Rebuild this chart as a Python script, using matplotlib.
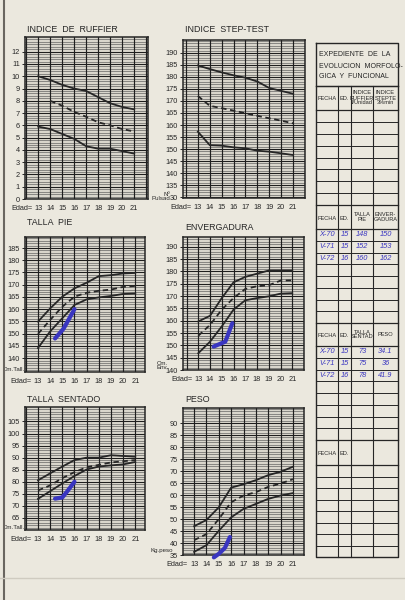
import matplotlib
matplotlib.use('Agg')
import matplotlib.pyplot as plt
from matplotlib.transforms import blended_transform_factory
import numpy as np

plt.rcParams['font.family'] = ['Liberation Sans Narrow', 'Liberation Sans', 'DejaVu Sans']

W, H = 405, 600
PAPER = '#ebe8de'
INK = '#262626'
AZUL = '#3a36c0'

# ---- datos ----
edad = [13, 14, 15, 16, 17, 18, 19, 20, 21]

ruffier_alto = [10.0, 9.7, 9.3, 9.0, 8.8, 8.3, 7.8, 7.5, 7.3]
ruffier_medio = [8.0, 7.6, 7.1, 6.7, 6.25, 6.0, 5.7, 5.5]   # empieza en 14
ruffier_bajo = [5.9, 5.7, 5.3, 4.9, 4.3, 4.1, 4.1, 3.9, 3.7]

step_alto = [184.8, 183.3, 181.9, 180.7, 179.7, 178.1, 175.4, 174.2, 173.0]
step_medio = [172.1, 168.0, 167.0, 166.0, 164.9, 163.8, 162.8, 161.8, 160.7]
step_bajo = [157.2, 151.6, 151.4, 150.7, 150.3, 149.3, 148.9, 148.2, 147.5]

pie_alto = [154.9, 160.3, 165.1, 168.5, 170.8, 173.5, 173.9, 174.6, 174.8]
pie_medio = [149.9, 155.6, 161.0, 165.1, 166.7, 167.5, 168.0, 169.1, 169.5]
pie_bajo = [144.1, 150.9, 156.3, 161.7, 164.0, 164.8, 165.4, 166.2, 166.4]
pie_edad_azul = [14.4, 15.1, 16.0]
pie_azul = [148, 152, 160]

env_alto = [159.7, 162.0, 169.2, 175.6, 177.8, 179.1, 180.4, 180.4, 180.4]
env_medio = [153.9, 158.3, 164.5, 169.2, 172.9, 174.0, 174.4, 176.3, 176.4]
env_bajo = [146.8, 151.5, 157.7, 164.5, 168.3, 169.2, 169.9, 171.0, 171.2]
env_edad_azul = [14.3, 15.3, 15.9]
env_azul = [149.5, 151.5, 159]

sent_alto = [80.6, 83.5, 86.3, 89.0, 90.0, 90.0, 91.0, 90.7, 90.4]
sent_medio = [76.4, 78.5, 81.5, 84.0, 86.0, 87.0, 88.0, 88.5, 89.0]
sent_bajo = [72.9, 76.1, 79.3, 82.4, 85.1, 86.3, 86.8, 87.2, 88.2]
sent_edad_azul = [14.4, 15.0, 15.4, 16.0]
sent_azul = [73, 73.5, 76, 80]

peso_alto = [47.0, 49.6, 54.9, 63.1, 64.5, 66.2, 68.3, 69.7, 71.8]
peso_medio = [41.2, 43.7, 50.0, 57.0, 59.8, 61.2, 63.4, 64.8, 66.6]
peso_bajo = [36.3, 39.1, 45.1, 50.7, 54.2, 56.3, 58.4, 59.8, 60.8]
peso_edad_azul = [14.6, 15.0, 15.5, 15.9]
peso_azul = [34, 35.5, 38, 42.5]

# ---- tabla de la derecha ----
titulo_tabla = ['EXPEDIENTE  DE  LA', 'EVOLUCION  MORFOLO-', 'GICA  Y  FUNCIONAL']
cab_1 = ['FECHA', 'ED.', 'INDICE\nRUFFIER\nI/Unidad', 'INDICE\nSTEPTE\n3%min']
cab_2 = ['FECHA', 'ED.', 'TALLA\nPIE', 'ENVER-\nGADURA']
cab_3 = ['FECHA', 'ED.', 'TALLA\nSENTAD', 'PESO']
cab_4 = ['FECHA', 'ED.', '', '']
fechas = ['X-70', 'V-71', 'V-72']
edades_tabla = ['15', '15', '16']
talla_pie_tabla = ['148', '152', '160']
envergadura_tabla = ['150', '153', '162']
sentado_tabla = ['73', '75', '78']
peso_tabla = ['34.1', '36', '41.9']


fig = plt.figure(figsize=(W / 100, H / 100), dpi=100, facecolor=PAPER)


def px_axes(left, top, right, bottom):
    return fig.add_axes([left / W, 1 - bottom / H, (right - left) / W, (bottom - top) / H])


def panel(box, title, xlim, ylim, yticks, minor, series, azul=None, unidad=None,
          unidad_x=-0.03, unidad_y=0.0, title_dy=4, ylabels=None):
    ax = px_axes(*box)
    ax.set_facecolor('#d9d6cc')
    ax.set_xlim(*xlim)
    ax.set_ylim(*ylim)
    # cuadricula fina
    for v in np.arange(ylim[0] - ylim[0] % minor, ylim[1], minor):
        ax.axhline(v, color='#505050', lw=0.42, zorder=1)
    for v in yticks:
        ax.axhline(v, color='#1e1e1e', lw=0.75, zorder=1.5)
    for a in range(12, 23):
        ax.axvline(a, color='#1e1e1e', lw=0.85, zorder=1.5)
    for s in ax.spines.values():
        s.set_color(INK)
        s.set_linewidth(1.1)
    ax.set_yticks(yticks)
    ax.set_yticklabels(ylabels if ylabels else [str(t) for t in yticks])
    ax.set_xticks(edad)
    ax.tick_params(axis='both', labelsize=5.3, colors=INK, length=2.5, width=0.7, pad=1.2)
    ax.tick_params(axis='x', length=0, pad=4)
    trans = blended_transform_factory(ax.transData, ax.transAxes)
    ax.annotate('Edad=', xy=(12.5, 0), xycoords=trans, xytext=(0, -4),
                textcoords='offset points', ha='right', va='top',
                fontsize=5.3, color=INK)
    ax.text(0.02, 1 + title_dy / (box[3] - box[1]), title, transform=ax.transAxes,
            ha='left', va='bottom', fontsize=6.4, color=INK)
    for x, y, ls in series:
        ax.plot(x, y, color=INK, lw=1.3, ls=ls, zorder=3)
    if azul is not None:
        ax.plot(azul[0], azul[1], color=AZUL, lw=3.0, solid_capstyle='round',
                zorder=4, clip_on=False)
    if unidad is not None:
        ax.text(unidad_x, unidad_y, unidad, transform=ax.transAxes, ha='right',
                va='bottom', fontsize=4.4, color=INK, linespacing=0.85)
    return ax


dash = (0, (3, 2))

panel((25, 37, 148, 199), 'INDICE  DE  RUFFIER', (11.9, 22.15), (0, 13.2),
      list(range(0, 13)), 0.2,
      [(edad, ruffier_alto, '-'), (edad[1:], ruffier_medio, dash), (edad, ruffier_bajo, '-')],
      title_dy=3)

panel((183, 40, 305, 198), 'INDICE  STEP-TEST', (11.75, 22.0), (129.6, 195.4),
      list(range(130, 195, 5)), 1,
      [(edad, step_alto, '-'), (edad, step_medio, dash), (edad, step_bajo, '-')],
      unidad='Nº\nPulsad', unidad_x=-0.105, unidad_y=-0.02, title_dy=6,
      ylabels=['30'] + [str(t) for t in range(135, 195, 5)])

panel((25, 237, 145, 372), 'TALLA  PIE', (11.93, 21.8), (134.3, 189.5),
      list(range(140, 190, 5)), 1,
      [(edad, pie_alto, '-'), (edad, pie_medio, dash), (edad, pie_bajo, '-')],
      azul=(pie_edad_azul, pie_azul), unidad='Cm.Tall.', unidad_x=0.0, title_dy=10)

panel((183, 237, 304, 370), 'ENVERGADURA', (11.7, 22.0), (140, 194),
      list(range(140, 195, 5)), 1,
      [(edad, env_alto, '-'), (edad, env_medio, dash), (edad, env_bajo, '-')],
      azul=(env_edad_azul, env_azul), unidad='Cm.\nEnv.', unidad_x=-0.12, title_dy=5)

panel((25, 407, 145, 530), 'TALLA  SENTADO', (11.93, 21.8), (60, 111),
      list(range(65, 110, 5)), 1,
      [(edad, sent_alto, '-'), (edad, sent_medio, dash), (edad, sent_bajo, '-')],
      azul=(sent_edad_azul, sent_azul), unidad='Cm.Tall.', unidad_x=0.0, title_dy=3)

panel((183, 408, 304, 555), 'PESO', (12.1, 21.9), (35, 96.3),
      list(range(35, 95, 5)), 1,
      [(edad, peso_alto, '-'), (edad, peso_medio, dash), (edad, peso_bajo, '-')],
      azul=(peso_edad_azul, peso_azul), unidad='Kg.peso', unidad_x=-0.085,
      unidad_y=0.012, title_dy=4)

# ---- tabla ----
tab = fig.add_axes([0, 0, 1, 1], facecolor='none')
tab.set_xlim(0, W)
tab.set_ylim(H, 0)
tab.axis('off')

cols = [316, 338, 351, 373, 398]
top, bottom = 43, 557
tab.plot([cols[0], cols[-1], cols[-1], cols[0], cols[0]], [top, top, bottom, bottom, top],
         color=INK, lw=1.0)
for i, t in enumerate(titulo_tabla):
    tab.text(cols[0] + 3, 55 + i * 11, t, fontsize=5.0, va='center', ha='left', color=INK)
tab.plot([cols[0], cols[-1]], [86, 86], color=INK, lw=0.9)
for c in cols[1:-1]:
    tab.plot([c, c], [86, bottom], color=INK, lw=0.8)

secciones = [(86, 110, 205, cab_1), (205, 229, 323, cab_2),
             (323, 346, 440, cab_3), (440, 465, bottom, cab_4)]
for s_top, h_bot, s_bot, cab in secciones:
    tab.plot([cols[0], cols[-1]], [s_top, s_top], color=INK, lw=0.9)
    tab.plot([cols[0], cols[-1]], [h_bot, h_bot], color=INK, lw=0.9)
    for y in np.linspace(h_bot, s_bot, 9)[1:-1]:
        tab.plot([cols[0], cols[-1]], [y, y], color=INK, lw=0.7)
    yc = (s_top + h_bot) / 2
    for k, txt in enumerate(cab):
        tab.text((cols[k] + cols[k + 1]) / 2, yc + (1 if k < 2 else 0), txt,
                 fontsize=4.1, ha='center', va='center', color=INK, linespacing=1.0)

filas_2 = list(zip(fechas, edades_tabla, talla_pie_tabla, envergadura_tabla))
filas_3 = list(zip(fechas, edades_tabla, sentado_tabla, peso_tabla))
for h_bot, filas in [(229, filas_2), (346, filas_3)]:
    alto = (205 - 110) / 8
    for r, fila in enumerate(filas):
        yc = h_bot + alto * (r + 0.5)
        for k, txt in enumerate(fila):
            tab.text((cols[k] + cols[k + 1]) / 2, yc, txt, fontsize=5.3, ha='center',
                     va='center', color=AZUL, style='italic')

# borde del papel
tab.plot([4, 4], [0, H], color='#6a6660', lw=1.5)
tab.plot([0, W], [578, 578], color='#cfcbc0', lw=1.0)

fig.savefig('out.png', dpi=100, facecolor=PAPER)
